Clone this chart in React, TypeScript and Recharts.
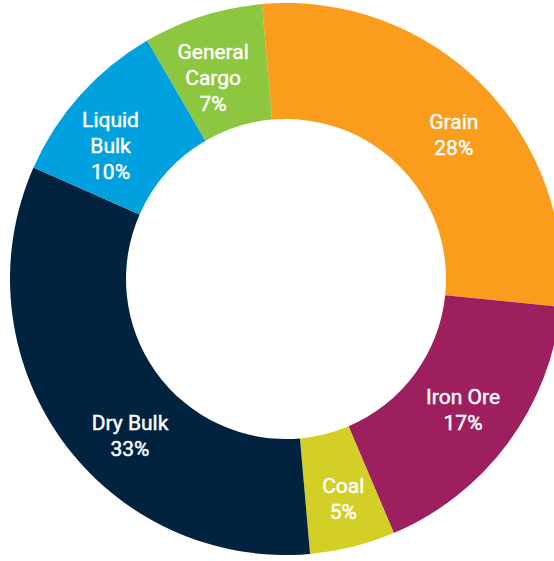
import { PieChart, Pie, Cell } from 'recharts';

const categories = ['Grain', 'Iron Ore', 'Coal', 'Dry Bulk', 'Liquid Bulk', 'General Cargo'];
const shares = [28, 17, 5, 33, 10, 7];
const labelLines = [['Grain'], ['Iron Ore'], ['Coal'], ['Dry Bulk'], ['Liquid', 'Bulk'], ['General', 'Cargo']];
const colors = ['#FA9C1C', '#9E1F5E', '#D4CF26', '#02233F', '#00A1DE', '#8DC63F'];

// small nudges (degrees, px) so labels sit where the original placed them
const labelNudge = [-4, 0, 0.6, 9.5, 4.7, 2.3];
const labelPush = [1, 0, 7, 1, 0, -6];

const data = categories.map((name, i) => ({ name, value: shares[i], idx: i }));

const RAD = Math.PI / 180;

function SliceLabel(props: any) {
  const { cx, cy, midAngle, innerRadius, outerRadius, payload } = props;
  const i = payload.idx;
  const r = (innerRadius + outerRadius) / 2 + 2 + labelPush[i];
  const a = (midAngle + labelNudge[i]) * RAD;
  const x = cx + r * Math.cos(a);
  const y = cy - r * Math.sin(a);
  const lines = [...labelLines[i], `${shares[i]}%`];
  const lh = 26;
  const top = y - ((lines.length - 1) * lh) / 2;
  return (
    <text
      x={x}
      y={top}
      fill="#ffffff"
      stroke="#ffffff"
      strokeWidth={0.45}
      textAnchor="middle"
      dominantBaseline="central"
      fontFamily="Roboto, sans-serif"
      fontSize={21}
      fontWeight={400}
    >
      {lines.map((l, k) => (
        <tspan key={k} x={x} y={top + k * lh}>
          {l}
        </tspan>
      ))}
    </text>
  );
}

export default function App() {
  return (
    <div style={{ position: 'absolute', left: 0, top: 0, width: 554, height: 561, background: '#fff' }}>
      <PieChart width={554} height={561} margin={{ top: 0, right: 0, bottom: 0, left: 0 }}>
        <Pie
          data={data}
          dataKey="value"
          nameKey="name"
          cx={286}
          cy={279}
          innerRadius={160}
          outerRadius={276}
          startAngle={95}
          endAngle={-265}
          stroke="none"
          label={SliceLabel}
          labelLine={false}
          isAnimationActive={false}
        >
          {data.map((d, i) => (
            <Cell key={d.name} fill={colors[i]} />
          ))}
        </Pie>
      </PieChart>
    </div>
  );
}
